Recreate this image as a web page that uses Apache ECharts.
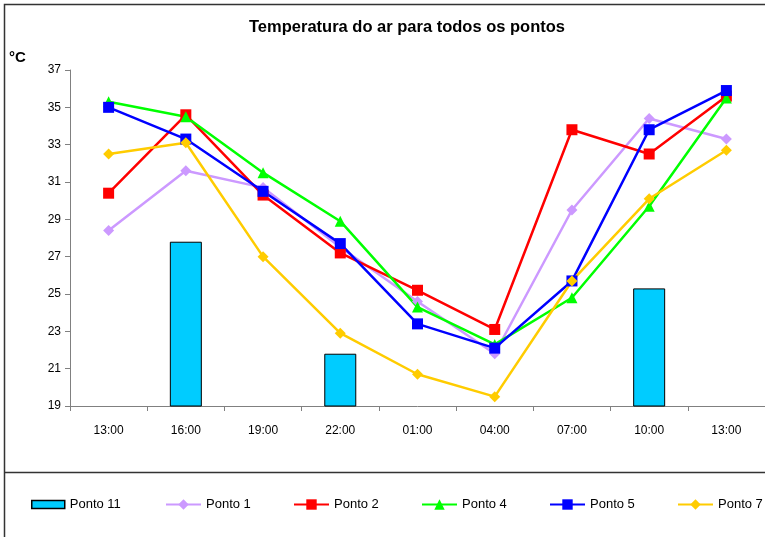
<!DOCTYPE html>
<html>
<head>
<meta charset="utf-8">
<script src="https://cdn.jsdelivr.net/npm/echarts@6/dist/echarts.min.js"></script>
<style>
  html, body { margin: 0; padding: 0; background: #fff; }
  #chart { width: 765px; height: 537px; }
</style>
</head>
<body>
<div id="chart"></div>
<script>
// Hours of the measurement campaign
const hours = ['13:00', '16:00', '19:00', '22:00', '01:00', '04:00', '07:00', '10:00', '13:00'];

// Air temperature (°C) at each point
const ponto11 = [null, 27.8, null, 21.8, null, null, null, 25.3, null];
const ponto1 = [28.4, 31.6, 30.7, 27.5, 24.6, 21.8, 29.5, 34.4, 33.3];
const ponto2 = [30.4, 34.6, 30.3, 27.2, 25.2, 23.1, 33.8, 32.5, 35.6];
const ponto4 = [35.3, 34.5, 31.5, 28.9, 24.3, 22.3, 24.8, 29.7, 35.5];
const ponto5 = [35.0, 33.3, 30.5, 27.7, 23.4, 22.1, 25.7, 33.8, 35.9];
const ponto7 = [32.5, 33.1, 27.0, 22.9, 20.7, 19.5, 25.7, 30.1, 32.7];

// Y axis range
const yMin = 19, yMax = 37, yStep = 2;

const font = 'Liberation Sans, Arial, sans-serif';

const chart = echarts.init(document.getElementById('chart'), null, { renderer: 'canvas' });

function lineSeries(name, data, color, symbol, size) {
  return {
    name, type: 'line', data,
    symbol, symbolSize: size,
    lineStyle: { color, width: 2.5 },
    itemStyle: { color },
    emphasis: { disabled: true }
  };
}

// One legend block per series so each entry sits at its own slot
function legendAt(name, left) {
  return {
    data: [name],
    left, top: 493,
    itemWidth: 35, itemHeight: 13,
    textStyle: { fontFamily: font, fontSize: 13, color: '#000' },
    selectedMode: false
  };
}

chart.setOption({
  animation: false,
  backgroundColor: '#fff',
  title: {
    text: 'Temperatura do ar para todos os pontos',
    left: 402, top: 14, textAlign: 'center',
    textStyle: { fontFamily: font, fontSize: 16.5, fontWeight: 'bold', color: '#000' }
  },
  legend: [
    {
      data: [{ name: 'Ponto 11', icon: 'rect', itemStyle: { borderColor: '#000', borderWidth: 1.5 } }],
      left: 26, top: 493,
      itemWidth: 33, itemHeight: 8,
      textStyle: { fontFamily: font, fontSize: 13, color: '#000' },
      selectedMode: false
    },
    legendAt('Ponto 1', 160),
    legendAt('Ponto 2', 288),
    legendAt('Ponto 4', 416),
    legendAt('Ponto 5', 544),
    legendAt('Ponto 7', 672)
  ],
  grid: { left: 70, right: 0, top: 70, bottom: 131, containLabel: false },
  xAxis: {
    type: 'category',
    data: hours,
    boundaryGap: true,
    axisLine: { lineStyle: { color: '#808080', width: 1 } },
    axisTick: { show: true, length: 5, alignWithLabel: false, lineStyle: { color: '#808080' } },
    axisLabel: { margin: 19, fontFamily: font, fontSize: 12, color: '#000' },
    splitLine: { show: false }
  },
  yAxis: {
    type: 'value',
    min: yMin, max: yMax, interval: yStep,
    name: '°C',
    nameLocation: 'end',
    nameGap: 0,
    nameTextStyle: { fontFamily: font, fontSize: 15, fontWeight: 'bold', color: '#000', align: 'left', padding: [0, 0, 5, -61] },
    axisLine: { show: true, lineStyle: { color: '#808080', width: 1 } },
    axisTick: { show: true, length: 5, lineStyle: { color: '#808080' } },
    axisLabel: { margin: 9, fontFamily: font, fontSize: 12, color: '#000' },
    splitLine: { show: false }
  },
  series: [
    {
      name: 'Ponto 11', type: 'bar', data: ponto11,
      barWidth: 32,
      itemStyle: { color: '#00CCFF', borderColor: '#000', borderWidth: 1 },
      emphasis: { disabled: true }
    },
    lineSeries('Ponto 1', ponto1, '#CC99FF', 'diamond', 11),
    lineSeries('Ponto 2', ponto2, '#FF0000', 'rect', 11),
    lineSeries('Ponto 4', ponto4, '#00FF00', 'triangle', 11),
    lineSeries('Ponto 5', ponto5, '#0000FF', 'rect', 11),
    lineSeries('Ponto 7', ponto7, '#FFCC00', 'diamond', 11)
  ],
  graphic: [
    {
      type: 'rect', silent: true,
      shape: { x: 4.5, y: 4.5, width: 900, height: 700 },
      style: { fill: null, stroke: '#333', lineWidth: 1.5 }
    },
    {
      type: 'line', silent: true,
      shape: { x1: 4.5, y1: 472.5, x2: 765, y2: 472.5 },
      style: { stroke: '#333', lineWidth: 1.5 }
    }
  ]
});
</script>
</body>
</html>
